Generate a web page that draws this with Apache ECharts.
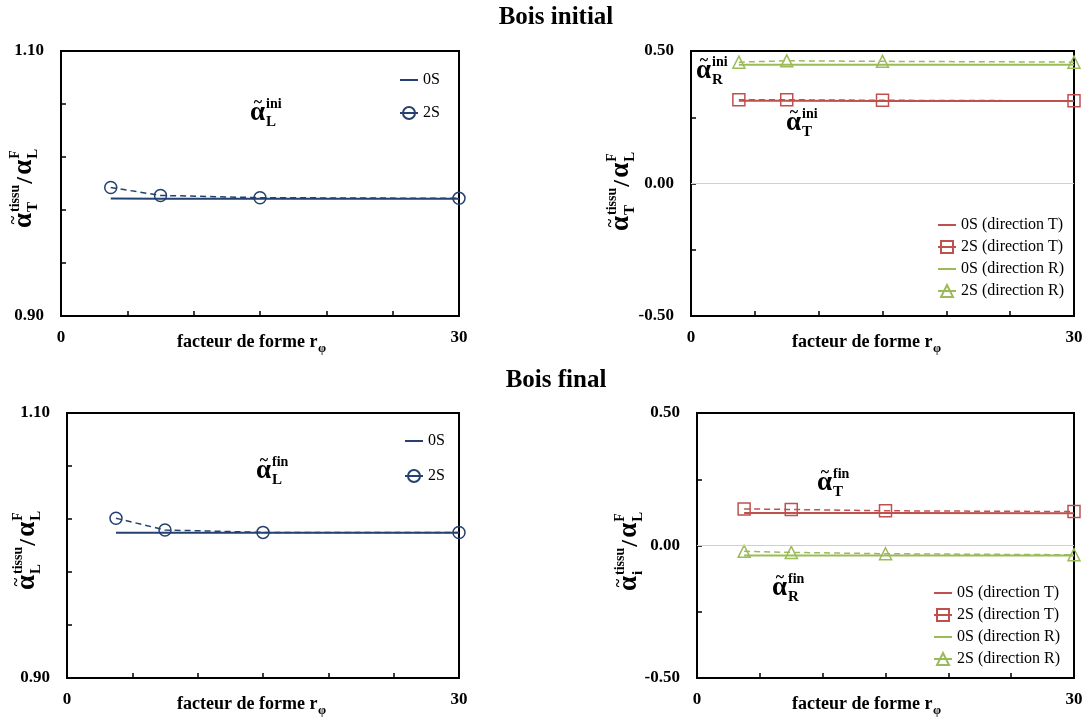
<!DOCTYPE html>
<html><head><meta charset="utf-8">
<script src="https://cdn.jsdelivr.net/npm/echarts@6/dist/echarts.min.js"></script>
<style>html,body{margin:0;padding:0;background:#fff}#c{width:1090px;height:719px}</style>
</head><body><div id="c"></div>
<script>
// ---------- data ----------
const shapeFactor = [3.75, 7.5, 15, 30];
const iniL_0S = [0.9886, 0.9885, 0.9885, 0.9884];
const iniL_2S = [0.9970, 0.9910, 0.9893, 0.9888];
const iniT_0S = [0.312, 0.312, 0.311, 0.311];
const iniT_2S = [0.316, 0.316, 0.314, 0.312];
const iniR_0S = [0.448, 0.448, 0.448, 0.448];
const iniR_2S = [0.458, 0.463, 0.461, 0.458];
const finL_0S = [1.0097, 1.0097, 1.0097, 1.0096];
const finL_2S = [1.0206, 1.0117, 1.0099, 1.0098];
const finT_0S = [0.123, 0.123, 0.123, 0.122];
const finT_2S = [0.138, 0.136, 0.131, 0.128];
const finR_0S = [-0.038, -0.038, -0.038, -0.038];
const finR_2S = [-0.022, -0.026, -0.031, -0.035];
const xTickLabels = ['0', '30'];
const yTickLabelsL = ['0.90', '1.10'];
const yTickLabelsD = ['-0.50', '0.00', '0.50'];
const legendL = ['0S', '2S'];
const legendD = ['0S (direction T)', '2S (direction T)', '0S (direction R)', '2S (direction R)'];

// ---------- styles ----------
const SERIF = '"Liberation Serif","Times New Roman",serif';
const NAVY = '#24416F', RED = '#C0504D', GREEN = '#9BBB59';
const pairs = arr => shapeFactor.map((x, i) => [x, arr[i]]);

const grids = [
  {left: 61, top: 51, width: 398, height: 265},
  {left: 691, top: 51, width: 383, height: 265},
  {left: 67, top: 413, width: 392, height: 265},
  {left: 697, top: 413, width: 377, height: 265}
];
const yRanges = [
  {min: 0.9, max: 1.1, interval: 0.04, labels: yTickLabelsL},
  {min: -0.5, max: 0.5, interval: 0.25, labels: yTickLabelsD},
  {min: 0.9, max: 1.1, interval: 0.04, labels: yTickLabelsL},
  {min: -0.5, max: 0.5, interval: 0.25, labels: yTickLabelsD}
];

const axisFont = {fontFamily: SERIF, fontSize: 17, fontWeight: 'bold', color: '#000'};

function line0(name, gi, data, color, extra) {
  return Object.assign({
    name, type: 'line', xAxisIndex: gi, yAxisIndex: gi, data: pairs(data),
    symbol: 'circle', showSymbol: false, clip: false, z: 2, animation: false,
    lineStyle: {color, width: 2, type: 'solid', opacity: 1}, itemStyle: {color, opacity: 0}
  }, extra || {});
}
function line2(name, gi, data, color, sym) {
  return {
    name, type: 'line', xAxisIndex: gi, yAxisIndex: gi, data: pairs(data),
    symbol: sym, symbolSize: 12, clip: false, z: 3, animation: false,
    lineStyle: {color, width: 1.5, type: [6, 4]},
    itemStyle: {color: 'rgba(255,255,255,0)', borderColor: color, borderWidth: 1.5}
  };
}
const zeroLine = {markLine: {silent: true, symbol: 'none', label: {show: false},
  lineStyle: {color: '#D0D0D0', width: 1, type: 'solid', opacity: 1}, data: [{yAxis: 0}], animation: false}};

// ---------- math-like text helpers ----------
const CW = {t:.333,i:.278,s:.389,u:.556,n:.556,f:.333,F:.611,L:.667,T:.667,R:.722};
const estW = (s, size) => s.split('').reduce((a, c) => a + (CW[c] || .5), 0) * size;
function T(x, base, s, size, align) {
  return {type: 'text', x: x, y: base - 0.34 * size, silent: true,
    style: {text: s, fontFamily: SERIF, fontSize: size, fontWeight: 'bold', fill: '#000',
      align: align || 'left', textAlign: align || 'left', verticalAlign: 'middle', textVerticalAlign: 'middle'}};
}
function alphaTerm(x, b, sup, sub, tilde) {
  const A = 27, aw = 15;
  const els = [T(x, b, 'α', A)];
  if (tilde) els.push(T(x + aw / 2 + 0.5, b - 14, '~', 16, 'center'));
  els.push(T(x + aw + 1, b - 13, sup, 14));
  els.push(T(x + aw + 1, b + 5, sub, 15));
  return {els, w: aw + 1 + Math.max(estW(sup, 14), estW(sub, 15))};
}
function yLabel(ox, oy, sub) {
  const t1 = alphaTerm(0, 0, 'tissu', sub, true);
  const sx = t1.w + 1;
  const slash = T(sx, 1, '/', 24);
  const t2 = alphaTerm(sx + 9, 0, 'F', 'L', false);
  return {type: 'group', x: ox, y: oy, rotation: Math.PI / 2, children: t1.els.concat([slash], t2.els)};
}
function annot(x, b, sup, sub) {
  return {type: 'group', x: 0, y: 0, children: alphaTerm(x, b, sup, sub, true).els};
}
function xName(x, b) {
  const main = 'facteur de forme r';
  return {type: 'group', children: [T(x, b, main, 18), T(x + estW(main.replace(/ /g, 'i'), 18) - 1, b + 5, 'φ', 13)]};
}

const titleStyle = {fontFamily: SERIF, fontSize: 25, fontWeight: 'bold', color: '#000'};
const option = {
  backgroundColor: '#fff',
  animation: false,
  title: [
    {text: 'Bois initial', left: 551, textAlign: 'center', top: 0, textStyle: titleStyle},
    {text: 'Bois final', left: 551, textAlign: 'center', top: 363, textStyle: titleStyle}
  ],
  grid: grids.map(g => Object.assign({show: true, borderColor: '#000', borderWidth: 2, outerBoundsMode: 'none', containLabel: false}, g)),
  xAxis: grids.map((g, i) => ({
    type: 'value', gridIndex: i, min: 0, max: 30, interval: 5,
    axisLine: {onZero: false, lineStyle: {color: '#000', width: 2}},
    axisTick: {inside: true, length: 5, lineStyle: {color: '#000', width: 1.5}},
    splitLine: {show: false},
    axisLabel: Object.assign({margin: 13, showMinLabel: true, showMaxLabel: true,
      formatter: v => xTickLabels.includes(String(v)) ? String(v) : ''}, axisFont)
  })),
  yAxis: yRanges.map((r, i) => ({
    type: 'value', gridIndex: i, min: r.min, max: r.max, interval: r.interval,
    axisLine: {onZero: false, lineStyle: {color: '#000', width: 2}},
    axisTick: {inside: true, length: 5, lineStyle: {color: '#000', width: 1.5}},
    splitLine: {show: false},
    axisLabel: Object.assign({margin: 17, showMinLabel: true, showMaxLabel: true,
      formatter: v => { const s = (Math.abs(v) < 1e-9 ? 0 : v).toFixed(2); return r.labels.includes(s) ? s : ''; }}, axisFont)
  })),
  legend: [
    {data: legendL, left: 394, top: 67, orient: 'vertical', itemGap: 17},
    {data: legendD, left: 932, top: 212, orient: 'vertical', itemGap: 6},
    {data: legendL, left: 399, top: 428, orient: 'vertical', itemGap: 19},
    {data: legendD, left: 928, top: 580, orient: 'vertical', itemGap: 6}
  ].map(l => Object.assign({itemWidth: 18, itemHeight: 15, selectedMode: false,
    textStyle: {fontFamily: SERIF, fontSize: 16, color: '#000'},
    lineStyle: {type: 'solid'}}, l)),
  series: [
    line0('0S', 0, iniL_0S, NAVY),
    line2('2S', 0, iniL_2S, NAVY, 'circle'),
    line0('0S (direction T)', 1, iniT_0S, RED, zeroLine),
    line2('2S (direction T)', 1, iniT_2S, RED, 'rect'),
    line0('0S (direction R)', 1, iniR_0S, GREEN),
    line2('2S (direction R)', 1, iniR_2S, GREEN, 'triangle'),
    line0('0S', 2, finL_0S, NAVY),
    line2('2S', 2, finL_2S, NAVY, 'circle'),
    line0('0S (direction T)', 3, finT_0S, RED, zeroLine),
    line2('2S (direction T)', 3, finT_2S, RED, 'rect'),
    line0('0S (direction R)', 3, finR_0S, GREEN),
    line2('2S (direction R)', 3, finR_2S, GREEN, 'triangle')
  ],
  graphic: [
    yLabel(33, 228, 'T'),
    yLabel(630, 231, 'T'),
    yLabel(36, 590, 'L'),
    yLabel(638, 591, 'i'),
    annot(250, 122, 'ini', 'L'),
    annot(696, 80, 'ini', 'R'),
    annot(786, 132, 'ini', 'T'),
    annot(256, 480, 'fin', 'L'),
    annot(817, 492, 'fin', 'T'),
    annot(772, 597, 'fin', 'R'),
    xName(177, 348),
    xName(792, 348),
    xName(177, 710),
    xName(792, 710)
  ]
};
const chart = echarts.init(document.getElementById('c'), null, {renderer: 'canvas'});
chart.setOption(option);
</script></body></html>
